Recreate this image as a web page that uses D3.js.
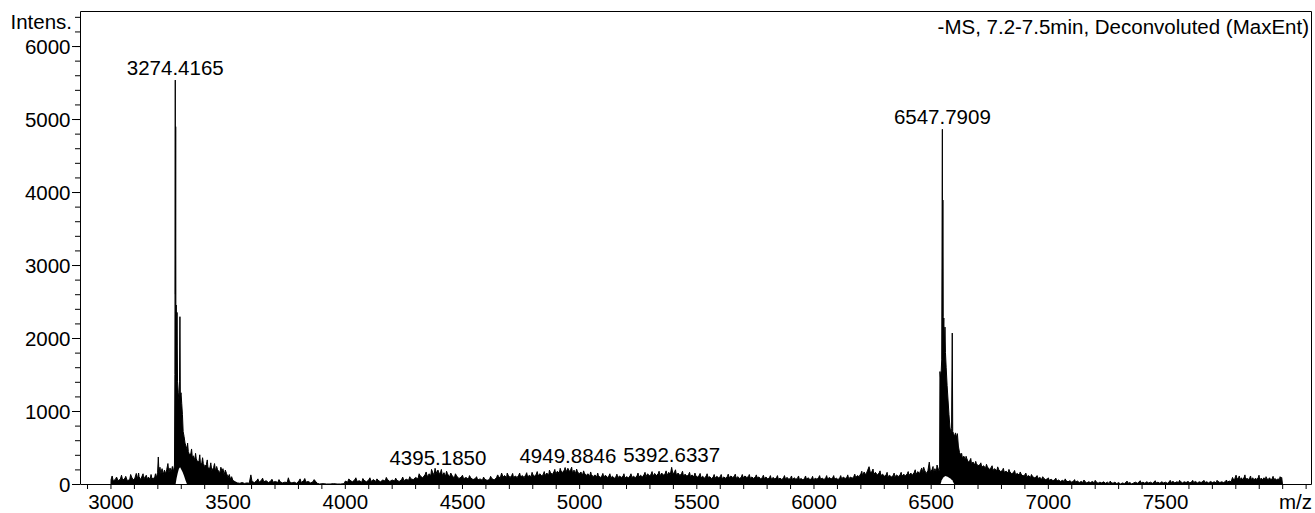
<!DOCTYPE html>
<html>
<head>
<meta charset="utf-8">
<script src="https://cdn.jsdelivr.net/npm/d3@7"></script>
<style>
  html, body { margin: 0; padding: 0; background: #fff; }
  svg { display: block; }
  text { font-family: "Liberation Sans", Arial, sans-serif; fill: #000; }
</style>
</head>
<body>
<svg id="chart" width="1315" height="513"></svg>
<script>
// ---------------- DATA ----------------
const titleText = "-MS, 7.2-7.5min, Deconvoluted (MaxEnt)";
const yAxisTitle = "Intens.";
const xAxisTitle = "m/z";

const xLabelValues = [3000, 3500, 4000, 4500, 5000, 5500, 6000, 6500, 7000, 7500];
const xMinorTicks = d3.range(2900, 8101, 100);
const yLabelValues = [0, 1000, 2000, 3000, 4000, 5000, 6000];
const yMinorTicks = d3.range(0, 6401, 200);

const peakLabelText = ["3274.4165", "4395.1850", "4949.8846", "5392.6337", "6547.7909"];
const peakLabelMz = [3274.4165, 4395.1850, 4949.8846, 5392.6337, 6547.7909];
const peakLabelIntensity = [5534, 192, 215, 228, 4860];

// spectrum, [m/z, intensity]
const region3000 = [[3000,0],[3000.5,60],[3010,40],[3020,70],[3030,45],[3040,65],[3050,50],[3060,80],[3070,45],[3080,60],[3088,95],[3095,55],[3102,80],[3108,145],[3114,70],[3120,100],[3127,60],[3133,110],[3140,65],[3147,105],[3154,70],[3160,95],[3167,60],[3174,90],[3180,65],[3187,100],[3194,85],[3199,160],[3202,370],[3205,150],[3209,230],[3213,140],[3218,210],[3223,130],[3228,190],[3233,140],[3238,200],[3243,280],[3247,150],[3252,220],[3257,160],[3262,240],[3267,170],[3271,260]];

const peak3274 = [[3272.8,1500],[3274.4,5534],[3275.1,2600],[3276.2,4895],[3277,2300],[3278.5,2452],[3280,1900],[3282,2350],[3284,1400],[3287,1250],[3290,1150],[3292.5,1400],[3294.3,2292],[3296,1200],[3299,1250],[3302,1100],[3305,950],[3308,720],[3312,650],[3316,560],[3320,520],[3325,470],[3330,445],[3335,400],[3341,420],[3347,370],[3352,385],[3358,330],[3364,345],[3370,300],[3376,320],[3382,270],[3388,295],[3394,280],[3400,240],[3407,265],[3414,220],[3422,215],[3430,185],[3438,225],[3446,175],[3455,195],[3465,155],[3474,175],[3483,125],[3493,145],[3500,90],[3510,65],[3520,50],[3530,30],[3540,15]];

const region3550 = [[3550,10],[3560,20],[3570,8],[3580,15],[3590,10],[3597,125],[3602,35],[3612,20],[3622,45],[3632,25],[3642,50],[3652,30],[3662,45],[3672,20],[3682,40],[3692,25],[3702,35],[3712,20],[3722,30],[3732,15],[3742,25],[3752,20],[3757,85],[3762,30],[3772,15],[3782,25],[3792,10],[3802,40],[3812,20],[3822,45],[3832,25],[3842,35],[3852,15],[3862,30],[3872,40],[3880,10],[3890,0],[3905,5],[3920,0],[3935,0],[3950,5],[3965,0],[3980,0],[3995,5],[4000,40],[4010,25],[4020,50],[4030,30],[4040,55],[4050,35],[4060,45],[4070,25],[4080,50],[4090,30],[4100,55],[4110,35],[4120,60],[4130,35],[4140,50],[4150,30],[4160,55],[4170,40],[4180,60],[4190,35],[4200,55],[4210,40],[4220,50],[4230,35],[4240,60],[4250,45],[4260,65],[4270,50],[4280,70],[4290,60]];

const region4300 = [[4300,90],[4310,70],[4320,110],[4330,85],[4340,125],[4350,100],[4358,140],[4365,115],[4372,165],[4379,120],[4386,180],[4391,140],[4395.185,192],[4401,130],[4407,170],[4414,115],[4421,155],[4428,105],[4436,140],[4445,95],[4455,120],[4465,80],[4475,110],[4485,75],[4495,95],[4505,70],[4515,90],[4525,65],[4535,85],[4545,60],[4555,75],[4565,55],[4575,70],[4585,50],[4595,65],[4605,50],[4615,60],[4625,75],[4635,55],[4645,85],[4655,100],[4661,80],[4667,150],[4673,95],[4680,115],[4688,85],[4695,120],[4703,90],[4710,115],[4718,85],[4725,110],[4733,90],[4740,120],[4748,95],[4755,115],[4763,90],[4770,125],[4778,95],[4785,120],[4793,100],[4800,130],[4808,105],[4815,135],[4823,110],[4830,140],[4838,110],[4845,135],[4853,115],[4860,150],[4868,120],[4875,160],[4883,130],[4890,165],[4898,135],[4905,175],[4913,145],[4920,185],[4928,155],[4935,195],[4942,165],[4949.8846,215],[4956,170],[4962,200],[4969,155],[4976,190],[4983,145],[4990,175],[4998,135],[5005,165],[5013,125],[5020,150],[5028,115],[5035,140],[5043,105],[5050,130],[5058,100],[5065,125],[5073,95],[5080,115],[5088,90],[5095,110],[5103,95],[5110,120],[5118,90],[5125,110],[5133,85],[5140,105],[5148,80],[5155,100],[5163,85],[5170,110],[5178,90],[5185,105],[5193,80],[5200,100],[5208,85],[5215,110],[5223,90],[5230,105],[5238,85],[5245,115],[5253,95],[5260,120],[5268,95],[5275,130],[5283,100],[5290,140],[5298,110],[5305,135],[5313,105],[5320,145],[5328,115],[5335,140],[5343,110],[5350,150],[5358,120],[5365,145],[5373,115],[5380,160],[5387,130],[5392.6337,228],[5398,135],[5405,165],[5413,120],[5420,150],[5428,115],[5435,145],[5443,110],[5450,135],[5458,105],[5465,130],[5473,100],[5480,125],[5488,95],[5495,115]];

const region5500 = [[5503,95],[5510,115],[5518,85],[5525,105],[5533,80],[5540,110],[5548,90],[5555,100],[5563,75],[5570,95],[5578,80],[5585,105],[5593,85],[5600,100],[5608,75],[5615,95],[5623,80],[5630,100],[5638,85],[5645,110],[5653,90],[5660,105],[5668,80],[5675,100],[5683,75],[5690,95],[5698,85],[5705,110],[5713,90],[5720,100],[5728,80],[5735,95],[5743,75],[5750,100],[5758,85],[5765,95],[5773,70],[5780,90],[5788,75],[5795,95],[5803,70],[5810,85],[5818,65],[5825,90],[5833,70],[5840,85],[5848,65],[5855,80],[5863,60],[5870,85],[5878,70],[5885,90],[5893,65],[5900,80],[5908,60],[5915,85],[5923,65],[5930,80],[5938,60],[5945,75],[5953,55],[5960,80],[5968,65],[5975,85],[5983,60],[5990,75],[5998,55],[6005,80],[6013,65],[6020,90],[6028,65],[6035,80],[6043,60],[6050,85],[6058,65],[6065,90],[6073,70],[6080,85],[6088,65],[6095,80],[6103,60],[6110,85],[6118,70],[6125,95],[6133,75],[6140,90],[6148,70],[6155,95],[6163,80],[6170,100],[6178,85],[6185,115],[6192,100],[6200,140],[6207,115],[6214,165],[6221,125],[6228,180],[6235,237],[6241,150],[6248,175],[6255,130],[6262,160],[6270,125],[6278,150],[6285,115],[6293,135],[6300,105],[6308,125],[6315,100],[6323,120],[6330,95],[6338,115],[6345,100],[6353,125],[6360,100],[6368,130],[6375,105],[6383,135],[6390,110],[6398,140],[6405,115],[6413,150],[6420,120],[6428,160],[6435,130],[6443,170],[6450,140],[6455,185],[6460,220],[6465,150],[6472,190],[6479,145],[6486,180],[6492,300],[6497,160],[6504,200],[6510,155],[6516,210],[6522,165],[6528,230],[6533,175],[6536,200]];

const peak6547 = [[6537.5,1540],[6540,1450],[6543,1560],[6545,1700],[6547.79,4860],[6548.8,2300],[6550,3890],[6551.5,2100],[6554,2274],[6556.5,1900],[6559,2150],[6561,1800],[6564,1600],[6568,1350],[6572,1150],[6576,950],[6580,780],[6584,700],[6587,760],[6590,2068],[6592,720],[6596,690],[6600,650],[6604,700],[6608,640],[6612,690],[6616,520],[6621,430]];

const region6620 = [[6627,400],[6633,360],[6640,380],[6646,330],[6652,350],[6658,300],[6665,320],[6672,280],[6679,300],[6686,260],[6693,280],[6700,250],[6708,265],[6716,230],[6724,250],[6732,215],[6740,235],[6748,200],[6756,225],[6764,190],[6772,210],[6780,180],[6788,200],[6796,170],[6804,185],[6812,160],[6820,175],[6828,150],[6836,165],[6844,140],[6852,160],[6860,130],[6868,145],[6876,120],[6884,135],[6892,110],[6900,125],[6908,100],[6916,115],[6924,90],[6932,105],[6940,85],[6948,95],[6956,75],[6964,90],[6972,65],[6980,80],[6988,60],[6996,70],[7004,50],[7012,65],[7020,45],[7028,60],[7036,40],[7044,55],[7052,35],[7060,50],[7068,35],[7076,45],[7084,30],[7092,45],[7100,25],[7108,40],[7116,25],[7124,40],[7132,20],[7140,35],[7148,20],[7156,35],[7164,15],[7172,30],[7180,20],[7188,35],[7196,15],[7204,30],[7212,10],[7220,25],[7228,15],[7236,30],[7244,10],[7252,25],[7260,5],[7268,20],[7276,10],[7284,25],[7292,5],[7300,20],[7308,0],[7316,15],[7324,5],[7332,25],[7340,10],[7348,20],[7356,0],[7364,15],[7372,25],[7380,10],[7388,30],[7396,15],[7404,25],[7412,10],[7420,30],[7428,15],[7436,25],[7444,10],[7452,30],[7460,15],[7468,25],[7476,10],[7484,30],[7492,15],[7500,25],[7508,10],[7516,30],[7524,20],[7532,35],[7540,15],[7548,30],[7556,20],[7564,35],[7572,15],[7580,30],[7588,20],[7596,35],[7604,15],[7612,30],[7620,20],[7628,35],[7636,15],[7644,30],[7652,20],[7660,35],[7668,20],[7676,30],[7684,15],[7692,35],[7700,20],[7708,30],[7716,15],[7724,35],[7732,20],[7740,30],[7748,20],[7756,35],[7764,25],[7772,40],[7780,30],[7786,90],[7791,55],[7796,75],[7801,121],[7806,65],[7812,90],[7818,60],[7824,85],[7830,55],[7836,95],[7842,60],[7848,80],[7854,55],[7860,90],[7866,60],[7872,85],[7878,55],[7884,80],[7890,60],[7896,90],[7902,55],[7908,80],[7914,60],[7920,85],[7926,55],[7932,75],[7938,60],[7944,85],[7950,55],[7956,80],[7962,60],[7968,75],[7974,55],[7980,70],[7986,60],[7992,80],[7996,90],[7999,0]];

// thin noise spikes sticking out of the baseline noise
const noiseSpikes = [[3005,110],[3024,95],[3045,120],[3063,105],[3084,130],[3118,150],[3137,140],[3151,120],[3171,130],[3190,140],
  [3327,560],[3344,480],[3361,420],[3379,400],[3391,360],[3411,330],[3426,290],[3442,280],[3451,240],[3469,230],[3478,210],[3488,190],[3505,130],[3515,100],
  [3627,70],[3647,80],[3687,65],[3717,60],[3807,70],[3827,75],[3867,60],
  [4015,70],[4045,85],[4075,75],[4105,85],[4135,70],[4175,90],[4215,80],[4245,95],[4275,100],
  [4315,140],[4345,165],[4368,200],[4383,215],[4410,200],[4432,175],[4450,150],[4470,140],[4500,120],[4530,115],[4560,100],[4590,95],[4620,105],[4650,125],[4691,150],[4714,145],[4744,150],[4774,155],[4797,160],[4819,170],[4849,170],[4871,190],[4894,200],[4917,215],[4938,225],[4966,230],[4987,205],[5017,180],[5047,165],[5077,150],[5099,145],[5129,140],[5159,135],[5189,140],[5219,140],[5249,150],[5279,160],[5309,170],[5339,175],[5369,180],[5409,195],[5439,175],[5469,160],[5492,150],
  [5514,145],[5544,140],[5574,130],[5604,130],[5634,135],[5664,135],[5694,130],[5724,130],[5754,125],[5784,120],[5814,115],[5844,115],[5874,115],[5904,110],[5934,110],[5964,110],[5994,105],[6024,115],[6054,115],[6084,115],[6114,115],[6144,125],[6174,135],[6204,175],[6252,205],[6282,180],[6312,160],[6342,150],[6372,160],[6402,170],[6432,195],[6468,230],[6508,240],[6525,260],
  [6630,420],[6649,380],[6669,350],[6690,310],[6712,290],[6736,270],[6760,250],[6784,235],[6808,215],[6832,200],[6856,185],[6880,165],[6904,150],[6928,130],[6952,115],[6976,100],[7000,85],
  [7032,80],[7072,70],[7112,60],[7152,55],[7200,50],[7264,40],[7336,40],[7392,45],[7456,45],[7520,50],[7560,50],[7616,50],[7664,50],[7720,50],[7760,55],
  [7815,110],[7839,125],[7863,110],[7899,120],[7929,100],[7959,105],[7989,100]];

// regions under the two main clusters where the trace never returns to zero
const gap3274 = [[3276,0],[3280,80],[3285,150],[3290,210],[3295,228],[3300,200],[3306,160],[3312,110],[3318,50],[3324,0]];
const gap6547 = [[6540,0],[6545,50],[6552,90],[6560,110],[6570,100],[6580,80],[6590,50],[6598,0]];

// ---------------- DRAW ----------------
const spectrum = [].concat(region3000, peak3274, region3550, region4300, region5500, peak6547, region6620, noiseSpikes)
  .sort((a, b) => a[0] - b[0]);

const svg = d3.select("#chart");
const plotLeft = 80, plotRight = 1311, plotTop = 11, plotBottom = 484;
const fontSize = "20.5px";

const x = d3.scaleLinear().domain([2870, 8123]).range([plotLeft, plotRight]);
const y = d3.scaleLinear().domain([0, 6480]).range([plotBottom, plotTop]);

const area = d3.area().x(d => x(d[0]) + 0.5).y0(y(0)).y1(d => y(d[1]));
const line = d3.line().x(d => x(d[0]) + 0.5).y(d => y(d[1]));

svg.append("path").datum(spectrum).attr("d", area).attr("fill", "#000");
[gap3274, gap6547].forEach(g => {
  svg.append("path").datum(g).attr("d", area).attr("fill", "#fff");
});
svg.append("path").datum(spectrum).attr("d", line)
  .attr("fill", "none").attr("stroke", "#000").attr("stroke-width", 1).attr("stroke-linejoin", "miter");

// frame (top & right)
svg.append("path")
  .attr("d", `M${plotLeft + 0.5},${plotTop + 0.5}H${plotRight + 0.5}V${plotBottom + 0.5}`)
  .attr("fill", "none").attr("stroke", "#000").attr("stroke-width", 1);

// x axis
const xAxis = d3.axisBottom(x).tickValues(xMinorTicks).tickSize(5).tickSizeOuter(0)
  .tickFormat(d => xLabelValues.includes(d) ? String(d) : "");
const gx = svg.append("g").attr("transform", `translate(0,${plotBottom})`).call(xAxis);
gx.selectAll("text").attr("y", 25).attr("dy", 0).style("font-size", fontSize).style("fill", "#000");
gx.selectAll("line, path").attr("stroke", "#000");

// y axis: minor ticks then majors with labels
const yMinor = d3.axisLeft(y).tickValues(yMinorTicks).tickSize(5).tickSizeOuter(0).tickFormat("");
const gyMinor = svg.append("g").attr("transform", `translate(${plotLeft},0)`).call(yMinor);
gyMinor.selectAll("line, path").attr("stroke", "#000");

const yAxis = d3.axisLeft(y).tickValues(yLabelValues).tickSize(8).tickPadding(1.5).tickSizeOuter(0).tickFormat(d => String(d));
const gy = svg.append("g").attr("transform", `translate(${plotLeft},0)`).call(yAxis);
gy.selectAll("text").attr("dy", "0.36em").style("font-size", fontSize).style("fill", "#000");
gy.selectAll("line, path").attr("stroke", "#000");
gy.select(".domain").remove();

// axis titles
svg.append("text").attr("x", 72).attr("y", 29).attr("text-anchor", "end")
  .style("font-size", fontSize).text(yAxisTitle);
svg.append("text").attr("x", 1312).attr("y", 509).attr("text-anchor", "end")
  .style("font-size", fontSize).text(xAxisTitle);
svg.append("text").attr("x", 1309).attr("y", 34).attr("text-anchor", "end")
  .style("font-size", fontSize).text(titleText);

// peak labels
svg.selectAll("text.peak").data(peakLabelText).enter().append("text")
  .attr("class", "peak")
  .attr("x", (d, i) => x(peakLabelMz[i]) + 0.5)
  .attr("y", (d, i) => y(peakLabelIntensity[i]) - 5)
  .attr("text-anchor", "middle")
  .style("font-size", fontSize)
  .text(d => d);
</script>
</body>
</html>
